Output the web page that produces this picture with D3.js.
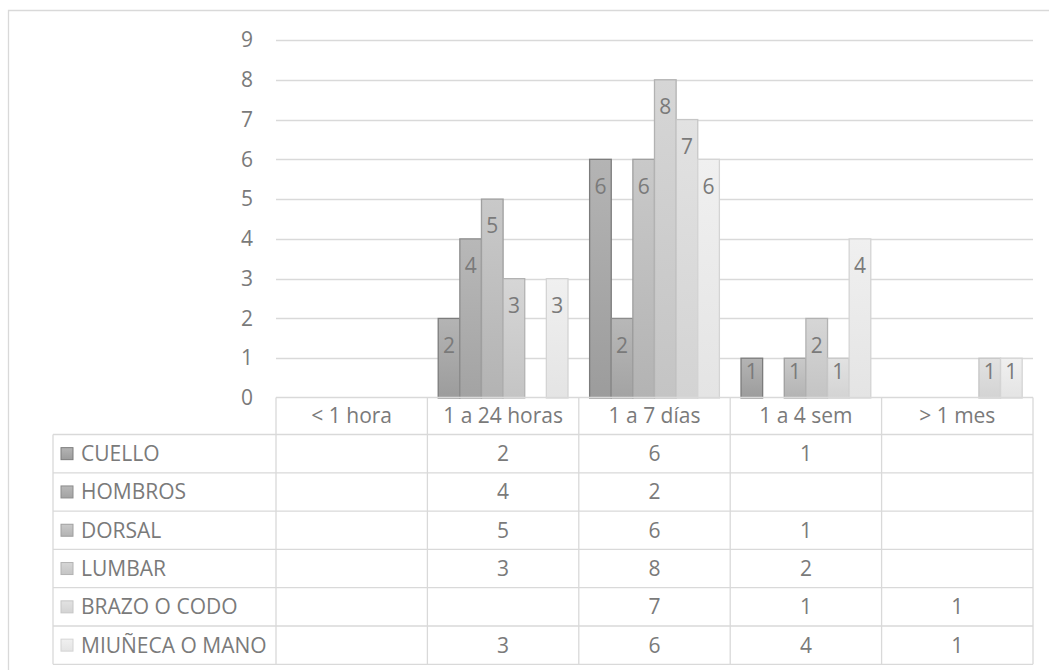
<!DOCTYPE html>
<html>
<head>
<meta charset="utf-8">
<script src="https://cdn.jsdelivr.net/npm/d3@7"></script>
<style>
  body { margin: 0; background: #fff; }
  svg { display: block; font-family: "Open Sans", sans-serif; }
</style>
</head>
<body>
<svg id="chart" width="1049" height="670"></svg>
<script>
var categories = ["< 1 hora", "1 a 24 horas", "1 a 7 días", "1 a 4 sem", "> 1 mes"];
var seriesNames = ["CUELLO", "HOMBROS", "DORSAL", "LUMBAR", "BRAZO O CODO", "MIUÑECA O MANO"];
var cuello = [null, 2, 6, 1, null];
var hombros = [null, 4, 2, null, null];
var dorsal = [null, 5, 6, 1, null];
var lumbar = [null, 3, 8, 2, null];
var brazo = [null, null, 7, 1, 1];
var muneca = [null, 3, 6, 4, 1];
var yTicks = [0, 1, 2, 3, 4, 5, 6, 7, 8, 9];

var seriesValues = [cuello, hombros, dorsal, lumbar, brazo, muneca];
var fillTop = ["#b4b4b4", "#b8b8b8", "#c9c9c9", "#d6d6d6", "#e2e2e2", "#f0f0f0"];
var fillBot = ["#9c9c9c", "#a3a3a3", "#b3b3b3", "#c4c4c4", "#d3d3d3", "#e4e4e4"];
var strokes = ["#7c7c7c", "#8c8c8c", "#9f9f9f", "#b2b2b2", "#c6c6c6", "#d4d4d4"];

var plot = {left: 276, right: 1033, top: 40, bottom: 398};
var rowH = 38.3, legLeft = 53;
var textCol = "#7a7a7a", lineCol = "#d9d9d9";
var fs = "21px";

var svg = d3.select("#chart");

// gradients
var defs = svg.append("defs");
seriesNames.forEach(function(n, i) {
  var g = defs.append("linearGradient")
    .attr("id", "grad" + i)
    .attr("x1", 0).attr("y1", 0).attr("x2", 0).attr("y2", 1);
  g.append("stop").attr("offset", "0%").attr("stop-color", fillTop[i]);
  g.append("stop").attr("offset", "100%").attr("stop-color", fillBot[i]);
});

// outer frame (right/bottom edges fall outside the picture)
svg.append("path")
  .attr("d", "M8.5,680 V10.5 H1060")
  .attr("fill", "none")
  .attr("stroke", lineCol)
  .attr("stroke-width", 1.3);

var x = d3.scaleBand()
  .domain(categories)
  .range([plot.left, plot.right]);

var xs = d3.scaleBand()
  .domain(d3.range(seriesNames.length))
  .range([0, x.bandwidth()])
  .paddingOuter(0.5);

var y = d3.scaleLinear()
  .domain([0, 9])
  .range([plot.bottom, plot.top]);

// gridlines
svg.append("g")
  .selectAll("line")
  .data(yTicks.slice(1))
  .enter()
  .append("line")
  .attr("x1", plot.left)
  .attr("x2", plot.right)
  .attr("y1", function(d) { return Math.round(y(d)) + 0.5; })
  .attr("y2", function(d) { return Math.round(y(d)) + 0.5; })
  .attr("stroke", lineCol)
  .attr("stroke-width", 1.3);

// y axis labels
var yAxis = svg.append("g")
  .attr("transform", "translate(" + (plot.left - 23) + ",0)")
  .call(d3.axisLeft(y).tickValues(yTicks).tickSize(0).tickPadding(0));
yAxis.select(".domain").remove();
yAxis.selectAll("text")
  .attr("fill", textCol)
  .style("font-size", fs)
  .style("font-family", "Open Sans");

// bars
var flat = [];
seriesValues.forEach(function(vals, s) {
  vals.forEach(function(v, c) {
    if (v !== null) flat.push({s: s, c: c, v: v});
  });
});

svg.append("g")
  .selectAll("rect")
  .data(flat)
  .enter()
  .append("rect")
  .attr("x", function(d) { return x(categories[d.c]) + xs(d.s); })
  .attr("y", function(d) { return y(d.v); })
  .attr("width", xs.bandwidth())
  .attr("height", function(d) { return y(0) - y(d.v); })
  .attr("fill", function(d) { return "url(#grad" + d.s + ")"; })
  .attr("stroke", function(d) { return strokes[d.s]; })
  .attr("stroke-width", 1.3);

// data labels (inside end)
svg.append("g")
  .selectAll("text")
  .data(flat)
  .enter()
  .append("text")
  .attr("x", function(d) { return x(categories[d.c]) + xs(d.s) + xs.bandwidth() / 2; })
  .attr("y", function(d) {
    var top = y(d.v), mid = (y(d.v) + y(0)) / 2 - 6;
    return Math.min(top + 27, mid);
  })
  .attr("dy", "0.35em")
  .attr("text-anchor", "middle")
  .attr("fill", textCol)
  .style("font-size", fs)
  .text(function(d) { return d.v; });

// data table
var table = svg.append("g").attr("stroke", lineCol).attr("stroke-width", 1.3).attr("fill", "none");
var tableTop = plot.bottom - 0.5;
var rowsTop = tableTop + 37;
var nRows = seriesNames.length;
var tableBottom = rowsTop + nRows * rowH;

// header horizontal line (axis) and row lines
table.append("line")
  .attr("x1", plot.left).attr("x2", plot.right)
  .attr("y1", tableTop).attr("y2", tableTop);
d3.range(nRows + 1).forEach(function(i) {
  var yy = rowsTop + i * rowH;
  table.append("line")
    .attr("x1", legLeft).attr("x2", plot.right)
    .attr("y1", yy).attr("y2", yy);
});
// vertical lines
table.append("line")
  .attr("x1", legLeft).attr("x2", legLeft)
  .attr("y1", rowsTop).attr("y2", tableBottom);
categories.concat([null]).forEach(function(c, i) {
  var xx = i < categories.length ? x(c) : plot.right;
  table.append("line")
    .attr("x1", xx).attr("x2", xx)
    .attr("y1", tableTop).attr("y2", tableBottom);
});

// header labels
svg.append("g")
  .selectAll("text")
  .data(categories)
  .enter()
  .append("text")
  .attr("x", function(d) { return x(d) + x.bandwidth() / 2; })
  .attr("y", tableTop + 18.5)
  .attr("dy", "0.35em")
  .attr("text-anchor", "middle")
  .attr("fill", textCol)
  .style("font-size", fs)
  .text(function(d) { return d; });

// legend column
var leg = svg.append("g")
  .selectAll("g")
  .data(seriesNames)
  .enter()
  .append("g")
  .attr("transform", function(d, i) { return "translate(0," + (rowsTop + i * rowH + rowH / 2) + ")"; });
leg.append("rect")
  .attr("x", 61).attr("y", -6)
  .attr("width", 12).attr("height", 12)
  .attr("fill", function(d, i) { return "url(#grad" + i + ")"; })
  .attr("stroke", function(d, i) { return strokes[i]; })
  .attr("stroke-width", 1);
leg.append("text")
  .attr("x", 81)
  .attr("dy", "0.35em")
  .attr("fill", textCol)
  .style("font-size", fs)
  .text(function(d) { return d; });

// cell values
svg.append("g")
  .selectAll("text")
  .data(flat)
  .enter()
  .append("text")
  .attr("x", function(d) { return x(categories[d.c]) + x.bandwidth() / 2; })
  .attr("y", function(d) { return rowsTop + d.s * rowH + rowH / 2; })
  .attr("dy", "0.35em")
  .attr("text-anchor", "middle")
  .attr("fill", textCol)
  .style("font-size", fs)
  .text(function(d) { return d.v; });
</script>
</body>
</html>
